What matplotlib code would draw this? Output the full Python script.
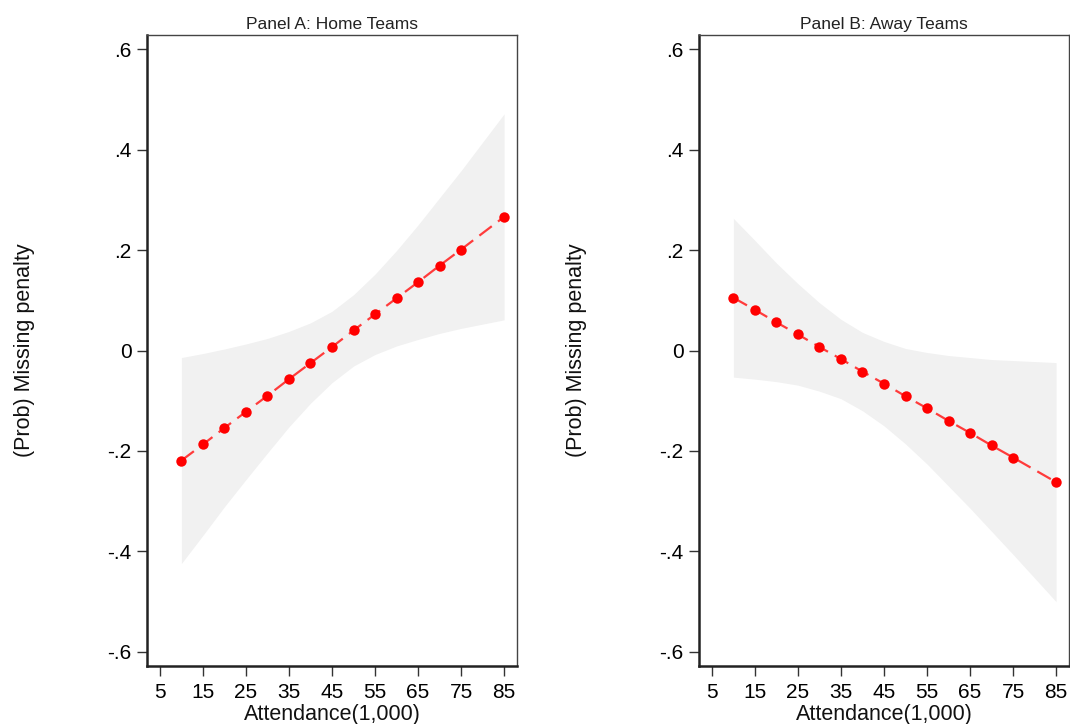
import matplotlib
matplotlib.use("Agg")
import matplotlib.pyplot as plt

plt.rcParams['font.family'] = ['Liberation Sans', 'DejaVu Sans']

attendance = [10, 15, 20, 25, 30, 35, 40, 45, 50, 55, 60, 65, 70, 75, 85]

home_est = [-0.219, -0.187, -0.154, -0.122, -0.090, -0.057, -0.025, 0.007,
            0.040, 0.072, 0.104, 0.136, 0.169, 0.201, 0.266]
home_upper = [-0.014, -0.006, 0.003, 0.013, 0.024, 0.038, 0.055, 0.078,
              0.111, 0.152, 0.199, 0.250, 0.304, 0.358, 0.471]
home_lower = [-0.424, -0.368, -0.311, -0.257, -0.204, -0.152, -0.105, -0.064,
              -0.031, -0.008, 0.009, 0.022, 0.034, 0.044, 0.061]

away_est = [0.105, 0.081, 0.056, 0.032, 0.007, -0.017, -0.042, -0.066,
            -0.091, -0.115, -0.140, -0.164, -0.189, -0.213, -0.262]
away_upper = [0.263, 0.219, 0.174, 0.133, 0.095, 0.062, 0.036, 0.018,
              0.004, -0.004, -0.010, -0.014, -0.018, -0.020, -0.024]
away_lower = [-0.053, -0.057, -0.062, -0.069, -0.081, -0.096, -0.120, -0.150,
              -0.186, -0.226, -0.270, -0.314, -0.360, -0.406, -0.500]

xticks = [5, 15, 25, 35, 45, 55, 65, 75, 85]
yticks = [-0.6, -0.4, -0.2, 0.0, 0.2, 0.4, 0.6]
ytick_labels = ['-.6', '-.4', '-.2', '0', '.2', '.4', '.6']
titles = ['Panel A: Home Teams', 'Panel B: Away Teams']
xlabel = 'Attendance(1,000)'
ylabel = '(Prob) Missing penalty'

W, H = 1070, 724
fig = plt.figure(figsize=(W / 100, H / 100), dpi=100)

panels = [
    (147, home_est, home_lower, home_upper, titles[0]),
    (699, away_est, away_lower, away_upper, titles[1]),
]

for left_px, est, lo, hi, title in panels:
    ax = fig.add_axes([left_px / W, 58 / H, 370 / W, 631 / H])
    ax.fill_between(attendance, lo, hi, color='#f1f1f1', linewidth=0, zorder=1)
    ax.plot(attendance, est, color='#ff3b3b', lw=1.6, dashes=(7, 3.5), zorder=2)
    ax.plot(attendance, est, linestyle='none', marker='o', markersize=7.5,
            color='#ff0000', markeredgewidth=0, zorder=3)
    ax.set_xlim(2.0, 88.0)
    ax.set_ylim(-0.628, 0.628)
    ax.set_xticks(xticks)
    ax.set_xticklabels([str(t) for t in xticks])
    ax.set_yticks(yticks)
    ax.set_yticklabels(ytick_labels)
    ax.tick_params(axis='both', direction='out', length=7, width=1.0,
                   labelsize=15, color='#333333', pad=4)
    ax.tick_params(axis='x', pad=5)
    for s in ['left', 'bottom']:
        ax.spines[s].set_linewidth(1.8)
        ax.spines[s].set_color('#222222')
    for s in ['top', 'right']:
        ax.spines[s].set_linewidth(1.0)
        ax.spines[s].set_color('#444444')
    ax.set_title(title, fontsize=12.5, pad=4, color='#222222')
    ax.set_xlabel(xlabel, fontsize=15.5, labelpad=2, color='#111111')
    ax.set_ylabel(ylabel, fontsize=15.5, labelpad=52, color='#111111')

fig.savefig('out.png', dpi=100, facecolor='white')
